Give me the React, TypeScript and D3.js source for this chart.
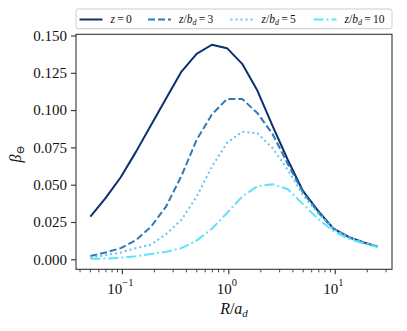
import React, { useRef, useEffect } from 'react';
import * as d3 from 'd3';

// R / a_d grid (log spaced)
const R = [0.05, 0.0694, 0.0964, 0.134, 0.186, 0.258, 0.359, 0.498, 0.692, 0.961, 1.335, 1.854, 2.575, 3.576, 4.967, 6.9, 9.58, 13.3, 18.5, 25.0];

const beta0 = [0.0286, 0.041, 0.055, 0.072, 0.09, 0.108, 0.1258, 0.1377, 0.1438, 0.1415, 0.131, 0.1131, 0.0894, 0.0667, 0.0458, 0.0324, 0.0207, 0.015, 0.0113, 0.0085];
const beta3 = [0.0022, 0.0045, 0.0075, 0.0128, 0.0219, 0.0355, 0.056, 0.08, 0.097, 0.1075, 0.1075, 0.098, 0.084, 0.064, 0.045, 0.0315, 0.0205, 0.0148, 0.0112, 0.0085];
const beta5 = [0.0012, 0.0028, 0.0045, 0.0075, 0.0098, 0.017, 0.0265, 0.042, 0.062, 0.078, 0.0855, 0.0845, 0.0745, 0.06, 0.043, 0.031, 0.0205, 0.0147, 0.011, 0.0084];
const beta10 = [0.0003, 0.0005, 0.001, 0.002, 0.0036, 0.005, 0.0075, 0.0125, 0.0205, 0.031, 0.042, 0.049, 0.0503, 0.047, 0.037, 0.027, 0.019, 0.0138, 0.0105, 0.0083];

const legendSub = ['', '3', '5', '10'];
const yTicks = [0, 0.025, 0.05, 0.075, 0.1, 0.125, 0.15];
const xTickExp = ['\u22121', '0', '1'];

const series = [
  { vals: beta0, color: '#0b2f6f', dash: null },
  { vals: beta3, color: '#2b7bb9', dash: '7,3' },
  { vals: beta5, color: '#67c1f3', dash: '2,3' },
  { vals: beta10, color: '#5ee1fb', dash: '10,3,2,3' },
];

const W = 407, H = 331;
const L = 76, Rt = 392, T = 34.3, B = 269.3;
const serif = "'Liberation Serif', 'DejaVu Serif', serif";

export default function App() {
  const ref = useRef<SVGSVGElement>(null);

  useEffect(() => {
    const svg = d3.select(ref.current);
    svg.selectAll('*').remove();

    const x = d3.scaleLog().domain([Math.pow(10, -1.436), Math.pow(10, 1.533)]).range([L, Rt]);
    const y = d3.scaleLinear().domain([-0.0067, 0.1508]).range([B, T]);

    // lines
    const line = d3.line<number>()
      .x((d, i) => x(R[i]))
      .y(d => y(d));
    const g = svg.append('g');
    series.forEach(s => {
      const p = g.append('path')
        .attr('d', line(s.vals))
        .attr('fill', 'none')
        .attr('stroke', s.color)
        .attr('stroke-width', 2)
        .attr('stroke-linejoin', 'round');
      if (s.dash) p.attr('stroke-dasharray', s.dash);
    });

    // frame
    svg.append('rect')
      .attr('x', L).attr('y', T).attr('width', Rt - L).attr('height', B - T)
      .attr('fill', 'none').attr('stroke', '#333').attr('stroke-width', 1.1);

    // y axis
    const yAxis = d3.axisLeft(y).tickValues(yTicks).tickSize(5).tickPadding(4).tickFormat(d3.format('.3f'));
    const ya = svg.append('g').attr('transform', `translate(${L},0)`).call(yAxis);
    ya.attr('font-family', null).attr('font-size', null);
    ya.select('.domain').remove();
    ya.selectAll('line').attr('stroke', '#333').attr('stroke-width', 1.1);
    ya.selectAll('text').style('font-family', serif).style('font-size', '15px').attr('fill', '#111');

    // x axis minor ticks
    const minor: number[] = [];
    [0.01, 0.1, 1, 10].forEach(dec => {
      for (let k = 2; k <= 9; k++) {
        const v = dec * k;
        if (x(v) >= L && x(v) <= Rt) minor.push(v);
      }
    });
    const xa = svg.append('g').attr('transform', `translate(0,${B})`);
    xa.selectAll('line.minor').data(minor).join('line')
      .attr('class', 'minor')
      .attr('x1', d => x(d)).attr('x2', d => x(d))
      .attr('y1', 0).attr('y2', 3)
      .attr('stroke', '#333').attr('stroke-width', 0.9);
    const majors = [0.1, 1, 10];
    xa.selectAll('line.major').data(majors).join('line')
      .attr('class', 'major')
      .attr('x1', d => x(d)).attr('x2', d => x(d))
      .attr('y1', 0).attr('y2', 5)
      .attr('stroke', '#333').attr('stroke-width', 1.1);
    const lbl = xa.selectAll('text.major').data(majors).join('text')
      .attr('class', 'major')
      .attr('x', d => x(d) - 2)
      .attr('y', 25)
      .attr('text-anchor', 'middle')
      .style('font-family', serif)
      .style('font-size', '15px')
      .attr('fill', '#111');
    lbl.append('tspan').text('10');
    lbl.append('tspan').attr('dy', -8).style('font-size', '10.5px').text((d, i) => xTickExp[i]);

    // axis labels
    const xl = svg.append('text')
      .attr('x', (L + Rt) / 2).attr('y', 314)
      .attr('text-anchor', 'middle')
      .style('font-family', serif).style('font-size', '16px').style('font-style', 'italic')
      .attr('fill', '#111');
    xl.append('tspan').text('R');
    xl.append('tspan').style('font-style', 'normal').text('/');
    xl.append('tspan').text('a');
    xl.append('tspan').attr('dy', 3).style('font-size', '11px').text('d');

    const yl = svg.append('text')
      .attr('transform', `translate(21,${(T + B) / 2 + 2}) rotate(-90)`)
      .attr('text-anchor', 'middle')
      .style('font-family', serif).style('font-size', '16px').style('font-style', 'italic')
      .attr('fill', '#111');
    yl.append('tspan').text('\u03b2');
    yl.append('tspan').attr('dy', 3).style('font-size', '11px').style('font-style', 'normal').text('\u2296');

    // legend
    const lg = svg.append('g');
    lg.append('rect')
      .attr('x', L).attr('y', 9).attr('width', Rt - L).attr('height', 19.7)
      .attr('rx', 2).attr('fill', '#fff').attr('stroke', '#cccccc').attr('stroke-width', 1);
    const colX = [79.5, 148, 230.5, 313.5];
    series.forEach((s, i) => {
      const cx = colX[i];
      const hl = lg.append('line')
        .attr('x1', cx).attr('x2', cx + 23)
        .attr('y1', 19.5).attr('y2', 19.5)
        .attr('stroke', s.color).attr('stroke-width', 2);
      if (s.dash) hl.attr('stroke-dasharray', s.dash);
      const t = lg.append('text')
        .attr('x', cx + 31).attr('y', 23)
        .style('font-family', serif).style('font-size', '11.5px')
        .attr('fill', '#111');
      t.append('tspan').style('font-style', 'italic').text('z');
      if (i === 0) {
        t.append('tspan').text('\u2009=\u20090');
      } else {
        t.append('tspan').text('/');
        t.append('tspan').style('font-style', 'italic').text('b');
        t.append('tspan').style('font-style', 'italic').style('font-size', '8px').attr('dy', 2).text('d');
        t.append('tspan').attr('dy', -2).text('\u2009=\u2009' + legendSub[i]);
      }
    });
  }, []);

  return (
    <svg ref={ref} width={W} height={H}
      style={{ position: 'absolute', left: 0, top: 0, background: '#fff' }} />
  );
}
